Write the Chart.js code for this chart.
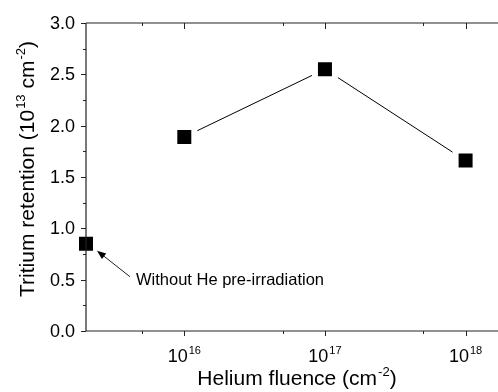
<!DOCTYPE html>
<html>
<head>
<meta charset="utf-8">
<script src="https://cdn.jsdelivr.net/npm/chart.js@4/dist/chart.umd.min.js"></script>
<style>
  html, body { margin: 0; padding: 0; background: #fff; }
  #wrap { width: 498px; height: 392px; position: relative; }
</style>
</head>
<body>
<div id="wrap"><canvas id="retentionChart"></canvas></div>
<script>
// helium fluence (cm^-2) vs tritium retention (10^13 cm^-2)
const fluence = [1e16, 1e17, 1e18];
const retention = [1.89, 2.55, 1.66];
// sample without He pre-irradiation, put at the start of the axis
const refFluence = [2e15];
const refRetention = [0.85];

const xRange = [2e15, 1.7e18];
const yRange = [0, 3];
const xMajorTicks = [1e16, 1e17, 1e18];
const xTickExp = ['16', '17', '18'];
const xMinorTicks = [5e15, 5e16, 5e17];
const yMajorTicks = [0, 0.5, 1.0, 1.5, 2.0, 2.5, 3.0];
const yMinorTicks = [0.25, 0.75, 1.25, 1.75, 2.25, 2.75];
const noteText = 'Without He pre-irradiation';

const FONT = '"Liberation Sans", Arial, sans-serif';

// text with superscripts, parts = [[text, isSup], ...]
function richWidth(ctx, parts, size) {
    let w = 0;
    parts.forEach(([t, sup]) => {
        ctx.font = (sup ? Math.round(size * 0.62) : size) + 'px ' + FONT;
        w += ctx.measureText(t).width + (sup ? 1 : 0);
    });
    return w;
}

function drawRich(ctx, parts, x, y, size) {
    let cx = x;
    parts.forEach(([t, sup]) => {
        ctx.font = (sup ? Math.round(size * 0.62) : size) + 'px ' + FONT;
        ctx.fillText(t, cx + (sup ? 1 : 0), sup ? y - size * 0.42 : y);
        cx += ctx.measureText(t).width + (sup ? 1 : 0);
    });
}

const framePlugin = {
    id: 'frame',
    afterDraw(chart) {
        const ctx = chart.ctx;
        const a = chart.chartArea;
        const xs = chart.scales.x;
        const ys = chart.scales.y;
        ctx.save();
        ctx.strokeStyle = '#222';
        ctx.fillStyle = '#000';
        ctx.lineWidth = 1.2;

        // axis lines (left, bottom, top)
        ctx.beginPath();
        ctx.moveTo(a.left, a.top);
        ctx.lineTo(a.left, a.bottom);
        ctx.moveTo(a.left, a.bottom);
        ctx.lineTo(a.right, a.bottom);
        ctx.moveTo(a.left, a.top);
        ctx.lineTo(a.right, a.top);
        ctx.stroke();

        ctx.lineWidth = 1;
        ctx.beginPath();
        yMajorTicks.forEach(v => {
            const y = Math.round(ys.getPixelForValue(v)) + 0.5;
            ctx.moveTo(a.left - 5, y); ctx.lineTo(a.left, y);
        });
        yMinorTicks.forEach(v => {
            const y = Math.round(ys.getPixelForValue(v)) + 0.5;
            ctx.moveTo(a.left - 3, y); ctx.lineTo(a.left, y);
        });
        xMajorTicks.forEach(v => {
            const x = Math.round(xs.getPixelForValue(v)) + 0.5;
            ctx.moveTo(x, a.bottom); ctx.lineTo(x, a.bottom + 5);
            ctx.moveTo(x, a.top); ctx.lineTo(x, a.top + 6);
        });
        xMinorTicks.forEach(v => {
            const x = Math.round(xs.getPixelForValue(v)) + 0.5;
            ctx.moveTo(x, a.bottom); ctx.lineTo(x, a.bottom + 3);
            ctx.moveTo(x, a.top); ctx.lineTo(x, a.top + 3);
        });
        ctx.stroke();

        // y tick labels
        ctx.textBaseline = 'middle';
        ctx.textAlign = 'right';
        ctx.font = '18px ' + FONT;
        yMajorTicks.forEach(v => {
            ctx.fillText(v.toFixed(1), a.left - 11, ys.getPixelForValue(v) + 1);
        });

        // x tick labels 10^n
        ctx.textAlign = 'left';
        ctx.textBaseline = 'alphabetic';
        xMajorTicks.forEach((v, i) => {
            const parts = [['10', false], [xTickExp[i], true]];
            const w = richWidth(ctx, parts, 18);
            drawRich(ctx, parts, xs.getPixelForValue(v) - w / 2, a.bottom + 31, 18);
        });

        // x title
        const xt = [['Helium fluence (cm', false], ['-2', true], [')', false]];
        const xw = richWidth(ctx, xt, 21);
        drawRich(ctx, xt, 297 - xw / 2, 385, 21);

        // y title, rotated
        const yt = [['Tritium retention (10', false], ['13', true], [' cm', false], ['-2', true], [')', false]];
        const yw = richWidth(ctx, yt, 21);
        ctx.save();
        ctx.translate(34, (a.top + a.bottom) / 2 - 8);
        ctx.rotate(-Math.PI / 2);
        drawRich(ctx, yt, -yw / 2, 0, 21);
        ctx.restore();

        // note arrow pointing at the reference sample
        const px = xs.getPixelForValue(refFluence[0]);
        const py = ys.getPixelForValue(refRetention[0]);
        const tail = [px + 44, py + 33];
        const tip = [px + 11, py + 7];
        const ang = Math.atan2(tip[1] - tail[1], tip[0] - tail[0]);
        ctx.beginPath();
        ctx.moveTo(tail[0], tail[1]);
        ctx.lineTo(tip[0] - 6 * Math.cos(ang), tip[1] - 6 * Math.sin(ang));
        ctx.stroke();
        ctx.beginPath();
        ctx.moveTo(tip[0], tip[1]);
        ctx.lineTo(tip[0] - 9 * Math.cos(ang) + 3.5 * Math.sin(ang), tip[1] - 9 * Math.sin(ang) - 3.5 * Math.cos(ang));
        ctx.lineTo(tip[0] - 9 * Math.cos(ang) - 3.5 * Math.sin(ang), tip[1] - 9 * Math.sin(ang) + 3.5 * Math.cos(ang));
        ctx.closePath();
        ctx.fill();

        ctx.font = '16.5px ' + FONT;
        ctx.textBaseline = 'middle';
        ctx.fillText(noteText, px + 50, py + 37);
        ctx.restore();
    }
};

const markerStyle = {
    pointStyle: 'rect',
    pointRadius: 14.14,
    pointHoverRadius: 14.14,
    pointBackgroundColor: '#000',
    pointBorderColor: '#fff',
    pointBorderWidth: 6,
    pointHoverBorderWidth: 6
};

new Chart(document.getElementById('retentionChart'), {
    type: 'line',
    data: {
        datasets: [{
            data: fluence.map((f, i) => ({ x: f, y: retention[i] })),
            borderColor: '#000',
            borderWidth: 1,
            tension: 0,
            clip: false,
            ...markerStyle
        }, {
            data: refFluence.map((f, i) => ({ x: f, y: refRetention[i] })),
            showLine: false,
            clip: false,
            ...markerStyle
        }]
    },
    options: {
        responsive: true,
        maintainAspectRatio: false,
        animation: false,
        events: [],
        layout: { padding: { top: 23, left: 0, right: 0, bottom: 0 }, autoPadding: false },
        plugins: { legend: { display: false }, tooltip: { enabled: false } },
        scales: {
            x: {
                type: 'logarithmic',
                min: xRange[0],
                max: xRange[1],
                grid: { display: false },
                border: { display: false },
                ticks: { display: false },
                afterFit: s => { s.height = 61; }
            },
            y: {
                min: yRange[0],
                max: yRange[1],
                grid: { display: false },
                border: { display: false },
                ticks: { display: false },
                afterFit: s => { s.width = 86; }
            }
        }
    },
    plugins: [framePlugin]
});
</script>
</body>
</html>
